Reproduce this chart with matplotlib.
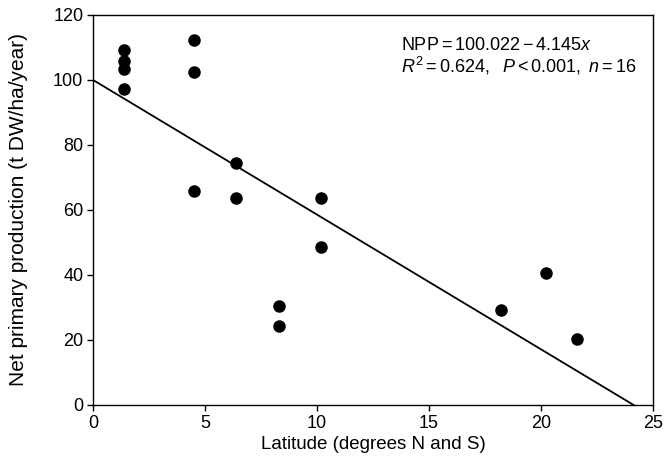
import numpy as np
import matplotlib
matplotlib.use('Agg')
import matplotlib.pyplot as plt

plt.rcParams['font.family'] = ['Liberation Sans', 'DejaVu Sans']
plt.rcParams['mathtext.fontset'] = 'custom'
plt.rcParams['mathtext.rm'] = 'Liberation Sans'
plt.rcParams['mathtext.it'] = 'Liberation Sans:italic'

# 纬度与净初级生产力
latitude = [1.4, 1.4, 1.4, 1.4, 4.5, 4.5, 4.5, 6.4, 6.4, 8.3, 8.3, 10.2, 10.2, 18.2, 20.2, 21.6]
npp = [109.3, 105.7, 103.3, 97.3, 112.4, 102.6, 65.8, 74.4, 63.8, 30.4, 24.3, 63.8, 48.7, 29.2, 40.5, 20.2]

# 回归线 NPP = 100.022 - 4.145x
intercept = 100.022
slope = -4.145

fig = plt.figure(figsize=(6.66, 4.73), dpi=100)
ax = fig.add_axes([0.1396, 0.1438, 0.841, 0.8245])

x_end = -intercept / slope
xs = np.array([0, x_end])
ax.plot(xs, intercept + slope * xs, color='black', lw=1.3)
ax.plot(latitude, npp, 'o', color='black', markersize=8, zorder=3)

ax.set_xlim(0, 25)
ax.set_ylim(0, 120)
ax.set_xticks([0, 5, 10, 15, 20, 25])
ax.set_yticks([0, 20, 40, 60, 80, 100, 120])
ax.tick_params(direction='out', length=4, width=1, labelsize=13, pad=3)
for s in ax.spines.values():
    s.set_linewidth(1)

ax.set_xlabel('Latitude (degrees N and S)', fontsize=13.5, labelpad=3)
ax.set_ylabel('Net primary production (t DW/ha/year)', fontsize=15)
ax.yaxis.set_label_coords(-0.116, 0.5)

ax.text(0.55, 0.923, r'$\mathrm{NPP}{=}100.022\,{-}\,4.145\mathit{x}$', transform=ax.transAxes,
        fontsize=13, va='center')
ax.text(0.55, 0.869, r'$\mathit{R}^2{=}0.624,\ \ \mathit{P}{<}0.001,\ \mathit{n}{=}16$',
        transform=ax.transAxes, fontsize=13, va='center')

fig.savefig('out.png', dpi=100)
